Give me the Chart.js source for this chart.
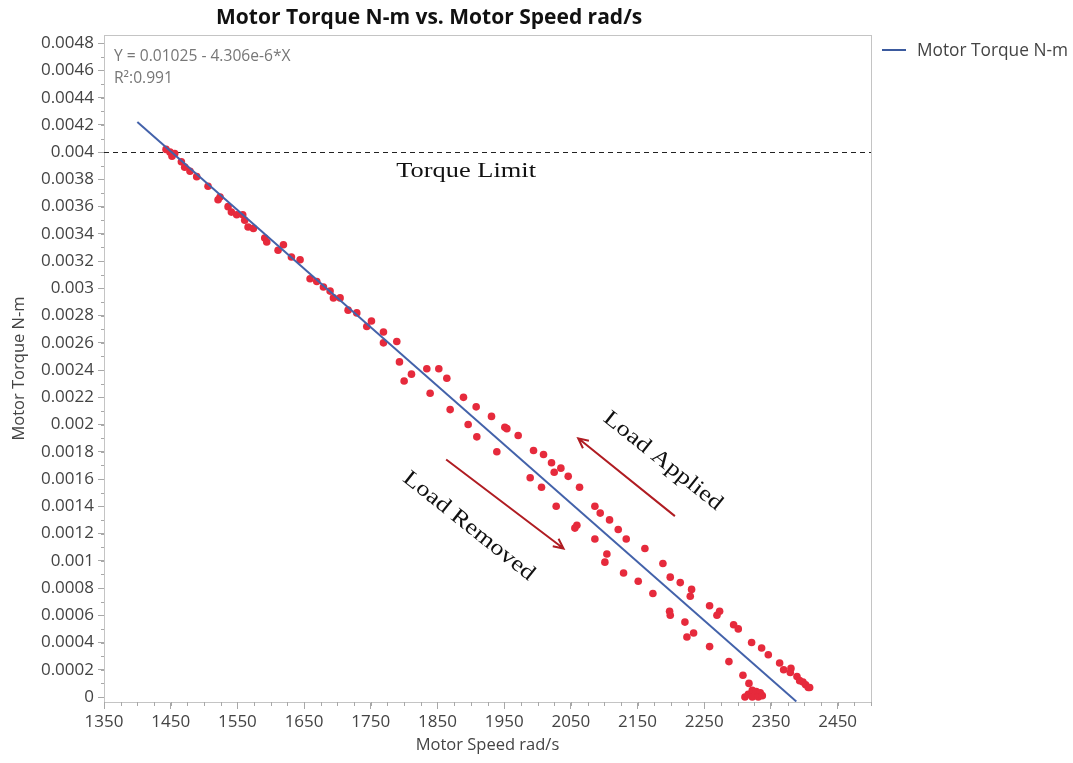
<!DOCTYPE html>
<html lang="en">
<head>
<meta charset="UTF-8" />
<title>Motor Torque N-m vs. Motor Speed rad/s</title>
<script src="https://cdn.jsdelivr.net/npm/chart.js"></script>
<style>
  html,body{margin:0;padding:0;background:#fff;}
  #wrap{position:relative;width:1073px;height:763px;}
</style>
</head>
<body>
<div id="wrap"><canvas id="torqueChart" width="1073" height="763"></canvas></div>

<script>
/* ---------- measured points: speed (rad/s) and torque (N-m) ---------- */
const speed = [
  1443,1449,1452,1456,1466,1471,1479,1489,1506,1521,1524,1536,1541,1549,1558,1561,1566,1574,
  1591,1594,1611,1619,1631,1644,1659,1669,1679,1689,1694,1704,1716,1729,1744,1751,1769,1769,
  1789,1793,1811,1800,1839,1834,1852,1864,1869,1889,1908,1896,1909,1931,1951,1954,1971,1939,
  1994,2009,2021,2025,2035,2046,1989,2006,2063,2028,2086,2094,2108,2121,2133,2059,2056,2086,
  2104,2101,2161,2188,2129,2151,2199,2214,2231,2229,2173,2258,2198,2199,2273,2269,2221,2294,
  2301,2234,2224,2258,2321,2336,2346,2287,2363,2369,2380,2379,2389,2393,2398,2402,2406,2408,
  2308,2317,2311,2316,2322,2328,2334,2322,2331,2337
];
const torque = [
  0.00402,0.00400,0.00397,0.00399,0.00393,0.00389,0.00386,0.00382,0.00375,0.00365,0.00367,0.00360,0.00356,0.00354,0.00354,0.00350,0.00345,0.00344,
  0.00337,0.00334,0.00328,0.00332,0.00323,0.00321,0.00307,0.00305,0.00301,0.00298,0.00293,0.00293,0.00284,0.00282,0.00272,0.00276,0.00268,0.00260,
  0.00261,0.00246,0.00237,0.00232,0.00223,0.00241,0.00241,0.00234,0.00211,0.00220,0.00213,0.00200,0.00191,0.00206,0.00198,0.00197,0.00192,0.00180,
  0.00181,0.00178,0.00172,0.00165,0.00168,0.00162,0.00161,0.00154,0.00154,0.00140,0.00140,0.00135,0.00130,0.00123,0.00116,0.00126,0.00124,0.00116,
  0.00105,0.00099,0.00109,0.00098,0.00091,0.00085,0.00088,0.00084,0.00079,0.00074,0.00076,0.00067,0.00063,0.00060,0.00063,0.00060,0.00055,0.00053,
  0.00050,0.00047,0.00044,0.00037,0.00040,0.00036,0.00031,0.00026,0.00025,0.00020,0.00021,0.00018,0.00015,0.00012,0.00011,0.00009,0.00007,0.00007,
  0.00016,0.00010,0.00000,0.00002,0.00005,0.00004,0.00003,0.00000,0.00000,0.00001
];

/* ---------- linear fit Y = a + b*X ---------- */
const fitIntercept = 0.01025;
const fitSlope = -4.306e-6;
const fitR2 = 0.991;
const fitSpeedRange = [1400, 2388];
const torqueLimit = 0.004;

/* ---------- axis ticks ---------- */
const xTickValues = [1350,1450,1550,1650,1750,1850,1950,2050,2150,2250,2350,2450];
const yTickValues = [0,0.0002,0.0004,0.0006,0.0008,0.001,0.0012,0.0014,0.0016,0.0018,0.002,0.0022,
                     0.0024,0.0026,0.0028,0.003,0.0032,0.0034,0.0036,0.0038,0.004,0.0042,0.0044,0.0046,0.0048];

const SANS = '"Open Sans", "Noto Sans", sans-serif';
const SERIF = '"Liberation Serif", "Times New Roman", serif';
const RED = '#e62a3c';
const FIT_BLUE = '#4362aa';
const ARROW_RED = '#b01c22';

const scatterPts = speed.map((s, i) => ({x: s, y: torque[i]}));
const fitPts = fitSpeedRange.map(s => ({x: s, y: fitIntercept + fitSlope * s}));

/* ---------- annotation spots (data coordinates) ---------- */
const notes = {
  limitLabel:   {x: 1893, y: 0.003863},
  appliedLabel: {x: 2188, y: 0.001732},
  removedLabel: {x: 1897, y: 0.001254},
  appliedArrow: [{x: 2206, y: 0.001328}, {x: 2061, y: 0.001899}],
  removedArrow: [{x: 1863, y: 0.001744}, {x: 2039, y: 0.001090}]
};

function drawArrow(ctx, x1, y1, x2, y2){
  const a = Math.atan2(y2 - y1, x2 - x1), h = 11, s = Math.PI / 7;
  ctx.beginPath();
  ctx.moveTo(x1, y1); ctx.lineTo(x2, y2);
  ctx.moveTo(x2 - h * Math.cos(a - s), y2 - h * Math.sin(a - s));
  ctx.lineTo(x2, y2);
  ctx.lineTo(x2 - h * Math.cos(a + s), y2 - h * Math.sin(a + s));
  ctx.stroke();
}

function serifLabel(ctx, text, x, y, angle){
  ctx.save();
  ctx.translate(x, y);
  ctx.rotate(angle);
  ctx.scale(1.2, 1);
  ctx.font = '22px ' + SERIF;
  ctx.fillStyle = '#111';
  ctx.textAlign = 'center';
  ctx.textBaseline = 'middle';
  ctx.fillText(text, 0, 0);
  ctx.restore();
}

/* frame, minor ticks, torque limit line (under the points) */
const underlay = {
  id: 'underlay',
  beforeDatasetsDraw(chart){
    const {ctx, chartArea: ca, scales: {x, y}} = chart;
    ctx.save();
    ctx.strokeStyle = '#c4c4c4';
    ctx.lineWidth = 1;
    ctx.strokeRect(ca.left + 0.5, ca.top + 0.5, ca.width, ca.height);

    // minor ticks
    ctx.strokeStyle = '#a8a8a8';
    ctx.beginPath();
    for (let v = 1350; v <= 2500; v += 25) {
      const px = Math.round(x.getPixelForValue(v)) + 0.5;
      ctx.moveTo(px, ca.bottom); ctx.lineTo(px, ca.bottom + 4);
    }
    for (let k = 0; k <= 48; k++) {
      const py = Math.round(y.getPixelForValue(k * 0.0001)) + 0.5;
      ctx.moveTo(ca.left, py); ctx.lineTo(ca.left - 3, py);
    }
    ctx.stroke();

    // torque limit
    const ly = Math.round(y.getPixelForValue(torqueLimit)) + 0.5;
    ctx.strokeStyle = '#222';
    ctx.setLineDash([5, 4]);
    ctx.beginPath();
    ctx.moveTo(ca.left, ly); ctx.lineTo(ca.right, ly);
    ctx.stroke();
    ctx.restore();
  }
};

/* title, legend, fit text, arrows and labels */
const overlay = {
  id: 'overlay',
  afterDraw(chart){
    const {ctx, chartArea: ca, scales: {x, y}} = chart;
    ctx.save();

    ctx.font = 'bold 21px ' + SANS;
    ctx.fillStyle = '#111';
    ctx.textBaseline = 'middle';
    ctx.textAlign = 'left';
    ctx.fillText('Motor Torque N-m vs. Motor Speed rad/s', 216, 18);

    // legend
    ctx.strokeStyle = '#3b5a9e';
    ctx.lineWidth = 2;
    ctx.beginPath(); ctx.moveTo(882, 50); ctx.lineTo(906, 50); ctx.stroke();
    ctx.font = '17.3px ' + SANS;
    ctx.fillStyle = '#444';
    ctx.fillText('Motor Torque N-m', 917, 51);

    // fit equation
    ctx.font = '15.6px ' + SANS;
    ctx.fillStyle = '#777';
    ctx.fillText('Y = ' + fitIntercept + ' - 4.306e-6*X', ca.left + 10, ca.top + 22);
    ctx.fillText('R\u00b2:' + fitR2, ca.left + 10, ca.top + 44);

    // arrows
    ctx.strokeStyle = ARROW_RED;
    ctx.lineWidth = 2;
    [notes.appliedArrow, notes.removedArrow].forEach(([a, b]) => {
      drawArrow(ctx, x.getPixelForValue(a.x), y.getPixelForValue(a.y),
                     x.getPixelForValue(b.x), y.getPixelForValue(b.y));
    });

    const ang = 38.5 * Math.PI / 180;
    serifLabel(ctx, 'Torque Limit', x.getPixelForValue(notes.limitLabel.x), y.getPixelForValue(notes.limitLabel.y), 0);
    serifLabel(ctx, 'Load Applied', x.getPixelForValue(notes.appliedLabel.x), y.getPixelForValue(notes.appliedLabel.y), ang);
    serifLabel(ctx, 'Load Removed', x.getPixelForValue(notes.removedLabel.x), y.getPixelForValue(notes.removedLabel.y), ang);
    ctx.restore();
  }
};

const ctx = document.getElementById('torqueChart').getContext('2d');
const chart = new Chart(ctx, {
  type: 'scatter',
  data: {datasets: [
    {label: 'Motor Torque N-m', data: fitPts, showLine: true, borderColor: FIT_BLUE, borderWidth: 2,
     pointRadius: 0, order: 0},
    {label: 'Motor Torque N-m points', data: scatterPts, backgroundColor: RED, borderWidth: 0,
     pointRadius: 3.8, order: 1}
  ]},
  options: {
    responsive: false,
    animation: false,
    layout: {padding: {left: 0, top: 35, right: 202, bottom: 0}},
    plugins: {legend: {display: false}, tooltip: {enabled: false}, title: {display: false}},
    scales: {
      x: {
        type: 'linear', min: 1350, max: 2500,
        afterBuildTicks: s => { s.ticks = xTickValues.map(v => ({value: v})); },
        afterFit: s => { s.height = 61; },
        ticks: {autoSkip: false, maxRotation: 0, padding: 3, color: '#444', font: {family: SANS, size: 17},
                callback: v => String(v)},
        grid: {drawOnChartArea: false, drawTicks: true, tickLength: 7, color: '#a8a8a8'},
        border: {display: true, color: '#a8a8a8'},
        title: {display: true, text: 'Motor Speed rad/s', color: '#444', font: {family: SANS, size: 16.5},
                padding: {top: 0, bottom: 8}}
      },
      y: {
        type: 'linear', min: -0.0000367, max: 0.00486,
        afterBuildTicks: s => { s.ticks = yTickValues.map(v => ({value: v})); },
        afterFit: s => { s.width = 104; },
        ticks: {autoSkip: false, padding: 4, color: '#444', font: {family: SANS, size: 17},
                callback: v => String(parseFloat(v.toFixed(4)))},
        grid: {drawOnChartArea: false, drawTicks: true, tickLength: 6, color: '#a8a8a8'},
        border: {display: true, color: '#a8a8a8'},
        title: {display: true, text: 'Motor Torque N-m', color: '#444', font: {family: SANS, size: 16.5},
                padding: {top: 9, bottom: 0}}
      }
    }
  },
  plugins: [underlay, overlay]
});
</script>
</body>
</html>
